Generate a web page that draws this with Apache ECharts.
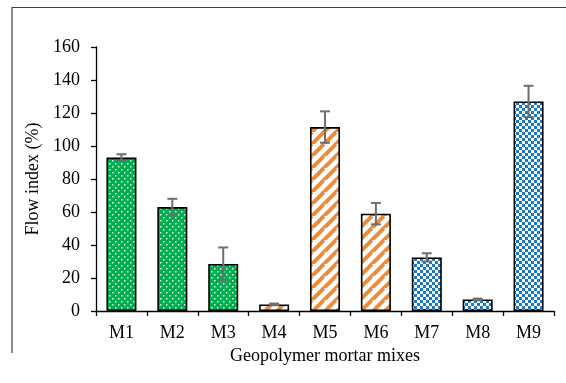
<!DOCTYPE html>
<html>
<head>
<meta charset="utf-8">
<script src="https://cdn.jsdelivr.net/npm/echarts@6/dist/echarts.min.js"></script>
<style>
  html, body { margin: 0; padding: 0; background: #fff; }
  #chart { width: 566px; height: 383px; }
</style>
</head>
<body>
<div id="chart"></div>
<script>
// Mix labels, mean flow index and standard deviation
const mixes = ['M1', 'M2', 'M3', 'M4', 'M5', 'M6', 'M7', 'M8', 'M9'];
const flowIndex = [93, 63, 28.5, 4, 111.5, 59, 32.5, 7, 127];
const flowError = [2, 5, 10, 0.5, 9.5, 6.5, 2.5, 0.5, 9.5];
// Pattern family of each mix: 0 = dotted green, 1 = orange stripes, 2 = blue checks
const mixGroup = [0, 0, 0, 1, 1, 1, 2, 2, 2];

function makeTile(w, h, draw) {
  const c = document.createElement('canvas');
  c.width = w; c.height = h;
  draw(c.getContext('2d'));
  return c;
}

// Green with small white dots
const dotTile = makeTile(6, 6, g => {
  g.fillStyle = '#00b050'; g.fillRect(0, 0, 6, 6);
  g.fillStyle = 'rgba(255,255,255,0.85)';
  g.fillRect(1, 1, 1.5, 1.5);
  g.fillRect(4, 4, 1.5, 1.5);
});
// White with wide upward orange diagonals
const stripeTile = makeTile(12, 12, g => {
  g.fillStyle = '#ffffff'; g.fillRect(0, 0, 12, 12);
  g.strokeStyle = '#f08a34'; g.lineWidth = 4;
  g.beginPath();
  for (let k = -12; k <= 24; k += 12) {
    g.moveTo(k - 12, 24); g.lineTo(k + 12, 0);
  }
  g.stroke();
});
// Blue / white small checkerboard
const checkTile = makeTile(6, 6, g => {
  g.fillStyle = '#ffffff'; g.fillRect(0, 0, 6, 6);
  g.fillStyle = '#1a78c8';
  g.fillRect(0, 0, 3, 3);
  g.fillRect(3, 3, 3, 3);
});
const tiles = [dotTile, stripeTile, checkTile];

const barData = flowIndex.map((v, i) => ({
  value: v,
  itemStyle: { color: { image: tiles[mixGroup[i]], repeat: 'repeat' } }
}));
const errData = flowIndex.map((v, i) => [i, v - flowError[i], v + flowError[i]]);

const font = 'Liberation Serif, Times New Roman, serif';
const chart = echarts.init(document.getElementById('chart'), null, { renderer: 'canvas' });
chart.setOption({
  animation: false,
  backgroundColor: '#ffffff',
  graphic: [
    { type: 'line', shape: { x1: 12, y1: 7.5, x2: 566, y2: 7.5 }, style: { stroke: '#404040', lineWidth: 1.2 } },
    { type: 'line', shape: { x1: 12, y1: 7, x2: 12, y2: 353 }, style: { stroke: '#404040', lineWidth: 1.2 } }
  ],
  grid: { left: 96, right: 12, top: 47, bottom: 72 },
  xAxis: {
    type: 'category',
    data: mixes,
    name: 'Geopolymer mortar mixes',
    nameLocation: 'middle',
    nameGap: 36,
    nameTextStyle: { fontFamily: font, fontSize: 18, color: '#000' },
    axisLine: { lineStyle: { color: '#000', width: 1.3 } },
    axisTick: { show: true, length: 5, alignWithLabel: false, lineStyle: { color: '#000', width: 1.3 } },
    axisLabel: { fontFamily: font, fontSize: 18, color: '#000', margin: 13 }
  },
  yAxis: {
    type: 'value',
    min: 0, max: 160, interval: 20,
    name: 'Flow index (%)',
    nameLocation: 'middle',
    nameGap: 54,
    nameTextStyle: { fontFamily: font, fontSize: 18, color: '#000' },
    splitLine: { show: false },
    axisLine: { show: true, lineStyle: { color: '#000', width: 1.3 } },
    axisTick: { show: true, length: 5, lineStyle: { color: '#000', width: 1.3 } },
    axisLabel: { fontFamily: font, fontSize: 18, color: '#000', margin: 16 }
  },
  series: [
    {
      type: 'bar',
      data: barData,
      barCategoryGap: '41%',
      itemStyle: { borderColor: '#000', borderWidth: 1.6 }
    },
    {
      type: 'custom',
      data: errData,
      z: 5,
      renderItem: function (params, api) {
        const i = api.value(0);
        const lo = api.coord([i, api.value(1)]);
        const hi = api.coord([i, api.value(2)]);
        const cap = 5;
        const st = { stroke: '#6e6e6e', lineWidth: 2 };
        return {
          type: 'group',
          children: [
            { type: 'line', shape: { x1: hi[0], y1: hi[1], x2: lo[0], y2: lo[1] }, style: st },
            { type: 'line', shape: { x1: hi[0] - cap, y1: hi[1], x2: hi[0] + cap, y2: hi[1] }, style: st },
            { type: 'line', shape: { x1: lo[0] - cap, y1: lo[1], x2: lo[0] + cap, y2: lo[1] }, style: st }
          ]
        };
      }
    }
  ]
});
</script>
</body>
</html>
